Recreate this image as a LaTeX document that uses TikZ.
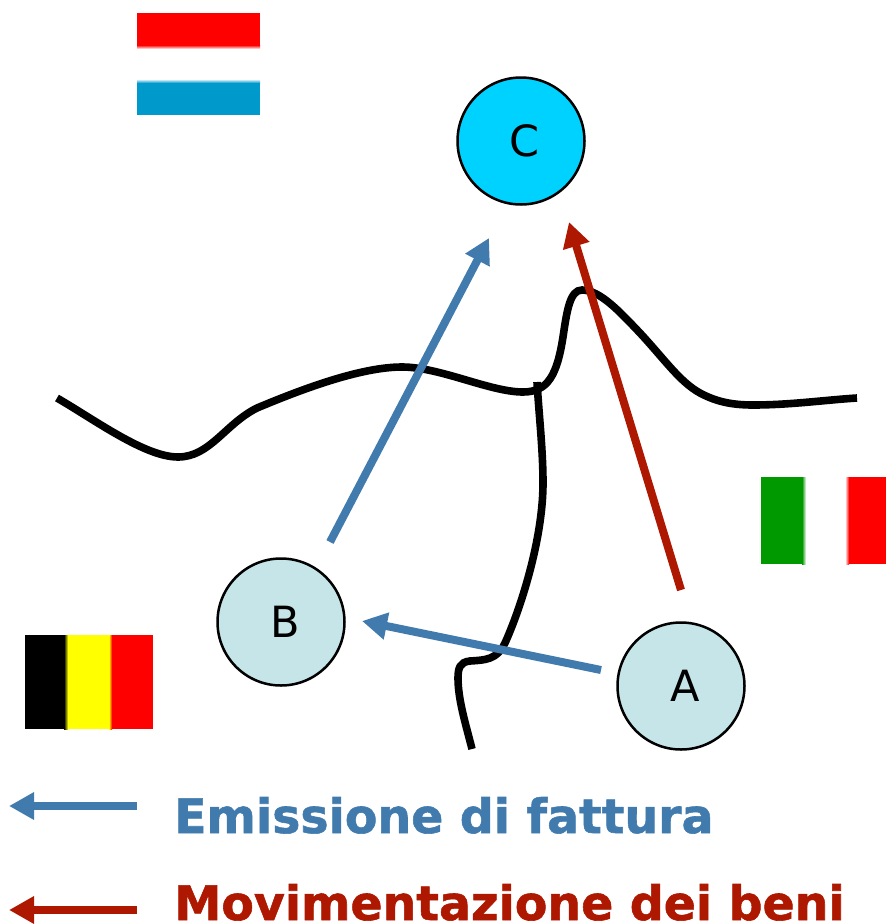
\documentclass[tikz,border=0pt]{standalone}
\usepackage{fontspec}
\setmainfont[BoldFeatures={FakeBold=1.2}]{DejaVu Sans}
\usetikzlibrary{arrows.meta}
\definecolor{steel}{HTML}{417BAE}
\definecolor{brick}{HTML}{AE1700}
\definecolor{pale}{HTML}{C5E5E8}
\definecolor{sky}{HTML}{00D2FF}
\definecolor{luxblue}{HTML}{0099CC}
\definecolor{itgreen}{HTML}{009900}
\definecolor{flagred}{HTML}{FF0000}
\definecolor{flagyellow}{HTML}{FFFF00}
\tikzset{
  x=1pt,y=-1pt,
  site/.style={circle,draw=black,line width=2.5pt,minimum size=127pt,inner sep=0pt,font=\fontsize{43}{43}\selectfont},
  flow/.style={line width=8pt,-{Triangle[length=25pt,width=26pt]}},
  border/.style={line width=7.6pt,black},
  legend/.style={anchor=base west,inner sep=0pt,font=\fontsize{47.4}{50}\selectfont\bfseries},
}
\begin{document}
\begin{tikzpicture}
\useasboundingbox (0,0) rectangle (886,924);
% Luxembourg flag
\fill[flagred] (137,13) rectangle (260,45);
\fill[top color=flagred,bottom color=white] (137,45) rectangle (260,49);
\fill[top color=white,bottom color=luxblue] (137,79) rectangle (260,83);
\fill[luxblue] (137,83) rectangle (260,115);
% Belgium flag
\fill[black] (25,635) rectangle (64,729);
\fill[left color=black,right color=flagyellow] (64,635) rectangle (68,729);
\fill[flagyellow] (68,635) rectangle (109,729);
\fill[left color=flagyellow,right color=flagred] (109,635) rectangle (112,729);
\fill[flagred] (112,635) rectangle (153,729);
% Italy flag
\fill[itgreen] (761,477) rectangle (802,564);
\fill[left color=itgreen,right color=white] (802,477) rectangle (806,564);
\fill[left color=white,right color=flagred] (845,477) rectangle (849,564);
\fill[flagred] (849,477) rectangle (886,564);
% borders
\draw[border] (57,398) .. controls (95,420) and (145,457) .. (178,457)
  .. controls (210,457) and (225,424) .. (257,408)
  .. controls (300,390) and (360,367) .. (402,367)
  .. controls (440,367) and (490,392) .. (523,392)
  .. controls (548,392) and (557,375) .. (563,337)
  .. controls (567,310) and (570,290) .. (582,290)
  .. controls (600,290) and (620,312) .. (640,333)
  .. controls (665,360) and (680,382) .. (700,393)
  .. controls (715,401) and (730,405) .. (753,405)
  .. controls (790,405) and (825,400) .. (857,398);
\draw[border] (537,382) .. controls (539,415) and (543,450) .. (543,483)
  .. controls (543,540) and (520,610) .. (505,643)
  .. controls (497,660) and (485,660) .. (470,661)
  .. controls (460,662) and (458,668) .. (458,678)
  .. controls (458,700) and (466,725) .. (472,749);
% sites
\node[site,fill=sky] (C) at (521,141) {\hspace*{8pt}C};
\node[site,fill=pale] (B) at (281,622) {\hspace*{8pt}B};
\node[site,fill=pale] (A) at (681,686) {\hspace*{8pt}A};
% connector ends
\coordinate (bs) at (330,542);
\coordinate (be) at (489,238);
\coordinate (rs) at (681,590);
\coordinate (re) at (569,222);
\coordinate (as) at (601,670);
\coordinate (ae) at (362,621);
\coordinate (l1s) at (137,806);
\coordinate (l1e) at (9,806);
\coordinate (l2s) at (137,910);
\coordinate (l2e) at (9,910);
\draw[flow,steel] (bs) -- (be);
\draw[flow,brick] (rs) -- (re);
\draw[flow,steel] (as) -- (ae);
\draw[flow,steel] (l1s) -- (l1e);
\draw[flow,brick] (l2s) -- (l2e);
\node[legend,text=steel] (t1) at (174,833) {Emissione di fattura};
\node[legend,text=brick] (t2) at (174,920) {Movimentazione dei beni};
\end{tikzpicture}
\end{document}
